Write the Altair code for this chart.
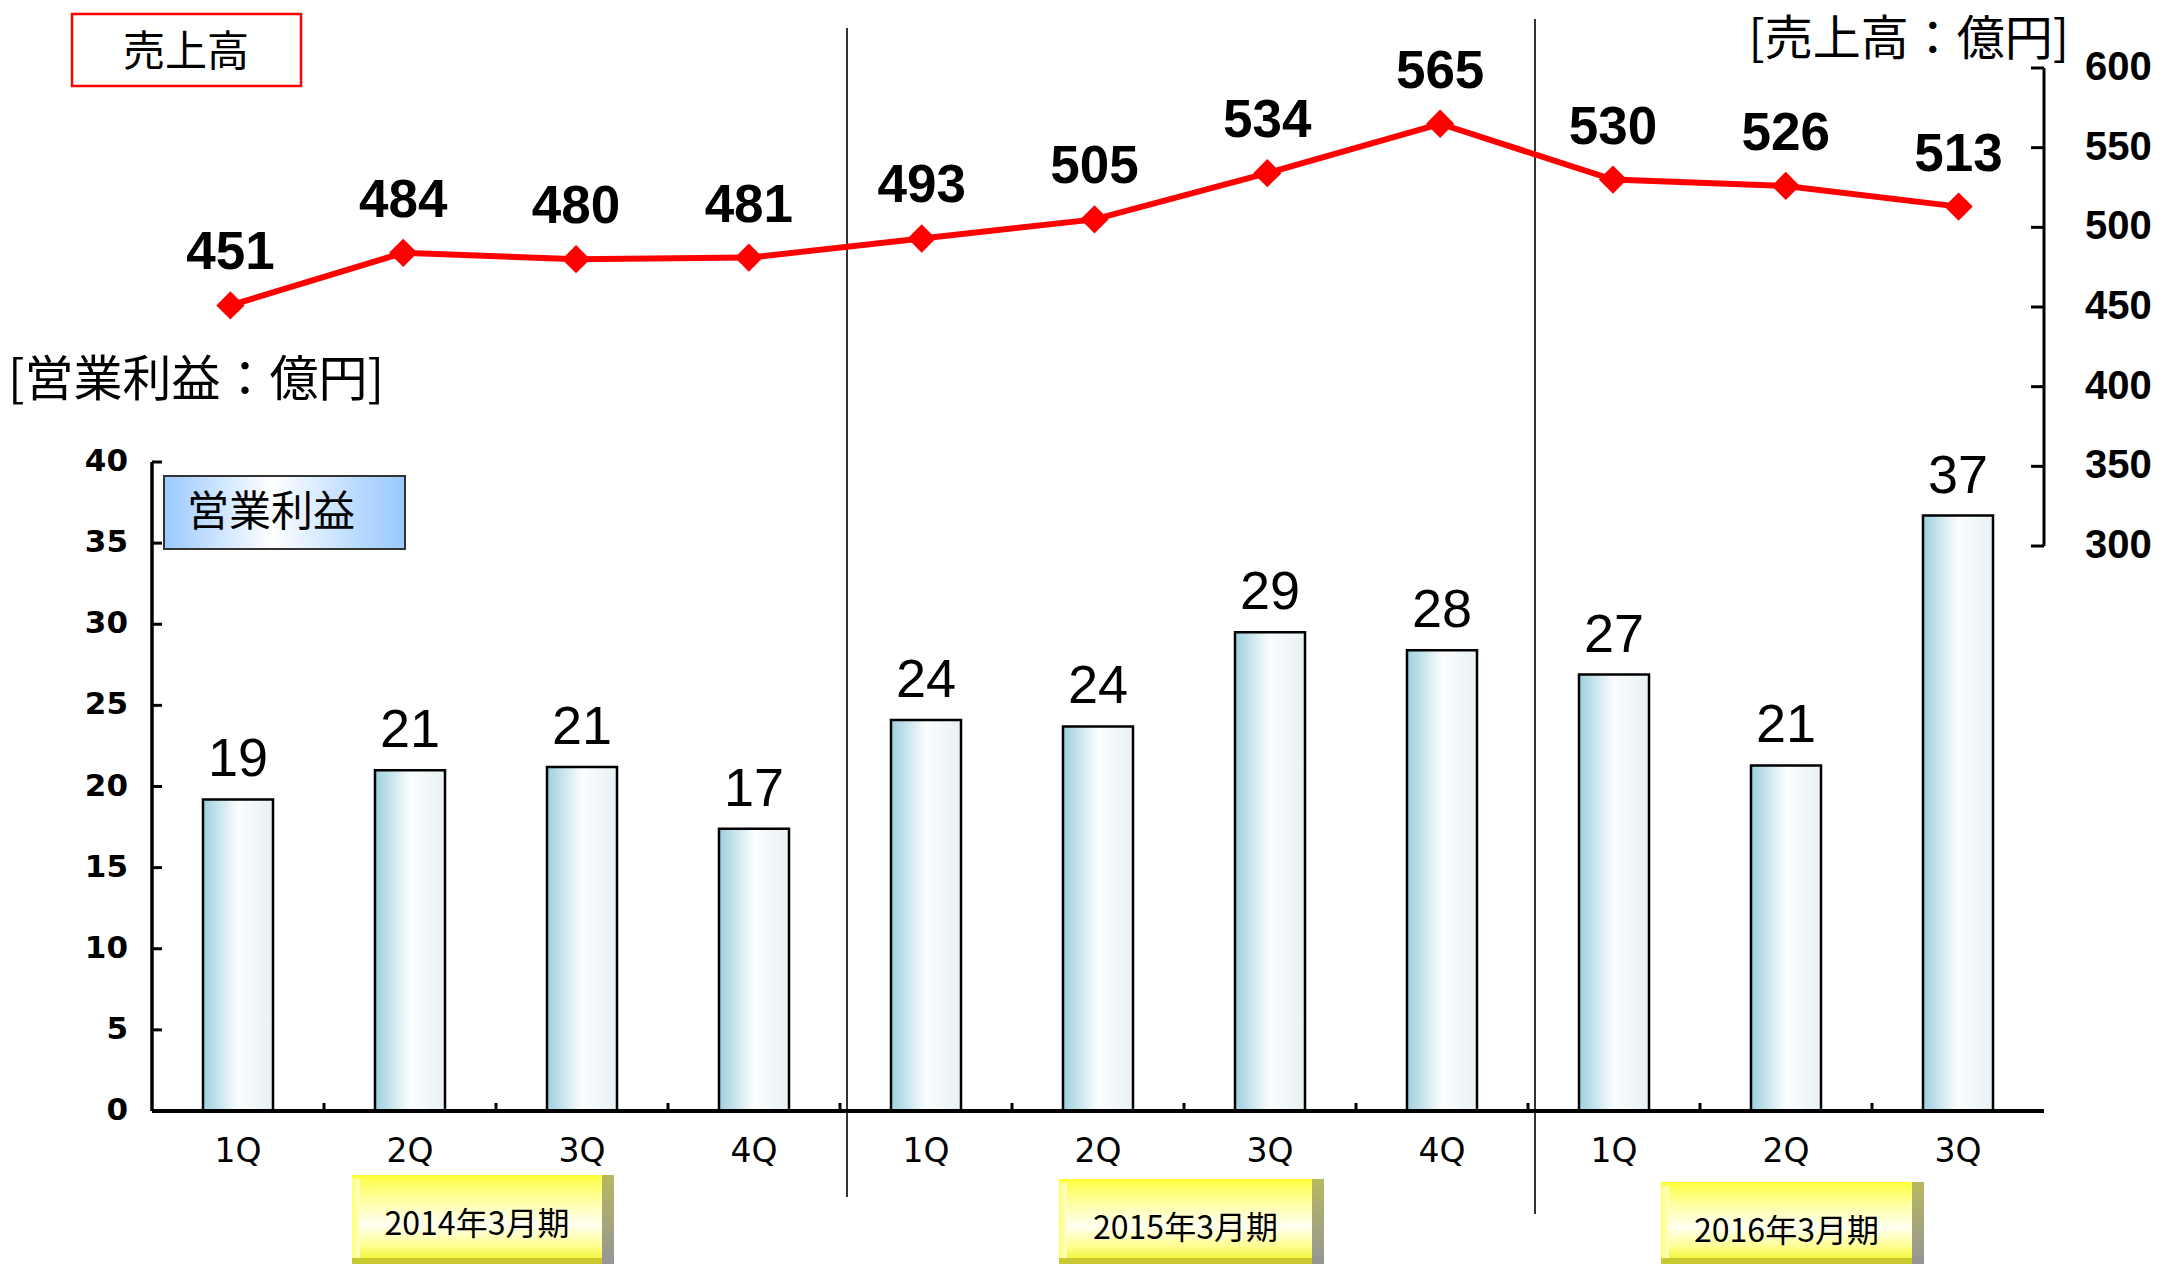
import altair as alt
import pandas as pd

# ---------------- data ----------------
quarters = ["1Q", "2Q", "3Q", "4Q", "1Q", "2Q", "3Q", "4Q", "1Q", "2Q", "3Q"]
revenue = [451, 484, 480, 481, 493, 505, 534, 565, 530, 526, 513]
profit = [19.2, 21.0, 21.2, 17.4, 24.1, 23.7, 29.5, 28.4, 26.9, 21.3, 36.7]
profit_labels = ["19", "21", "21", "17", "24", "24", "29", "28", "27", "21", "37"]
periods = ["2014年3月期", "2015年3月期", "2016年3月期"]
profit_ticks = [0, 5, 10, 15, 20, 25, 30, 35, 40]
revenue_ticks = [300, 350, 400, 450, 500, 550, 600]
boundaries = [1, 2, 3, 4, 5, 6, 7, 8, 9, 10]

# ---------------- layout ----------------
W, H = 1892, 1103
N = len(quarters)
HALF = 0.2035          # half bar width in quarter units
JP = "Noto Sans CJK JP"
LAT = "Liberation Sans"

df = pd.DataFrame({"i": list(range(N)), "q": quarters, "rev": revenue,
                   "prof": profit, "plab": profit_labels,
                   "revlab": [str(v) for v in revenue]})
df["xc"] = df["i"] + 0.5
df["x0"] = df["xc"] - HALF
df["x1"] = df["xc"] + HALF

xs = alt.Scale(domain=[0, N], range=[0, W], nice=False, zero=False)
# the revenue line sits on a slightly wider horizontal frame than the bars
xs_line = alt.Scale(domain=[0, N], range=[-8, 1893], nice=False, zero=False)
ys_p = alt.Scale(domain=[0, 40], range=[1103, 454], nice=False, zero=False)
ys_r = alt.Scale(domain=[300, 600], range=[538, 60], nice=False, zero=False)

one = pd.DataFrame({"k": [0]})


def grad(stops, horizontal=True):
    return alt.LinearGradient(
        gradient="linear",
        stops=[alt.GradientStop(color=c, offset=o) for o, c in stops],
        x1=0, y1=0, x2=1 if horizontal else 0, y2=0 if horizontal else 1)


layers = []

# ---- yellow period boxes (pixel layout, view coords) ----
box_layout = [(200, 462, 1167, 1217), (907, 1172, 1171, 1221), (1509, 1772, 1174, 1224)]
BOT = 1256
for name, (L, R, T, TY) in zip(periods, box_layout):
    layers.append(alt.Chart(one).mark_rect(color="#c8c830").encode(
        x=alt.value(L), x2=alt.value(R), y=alt.value(T), y2=alt.value(BOT)))
    layers.append(alt.Chart(one).mark_rect(fill=grad([(0, "#b8b860"), (1, "#959595")], False)).encode(
        x=alt.value(R - 12), x2=alt.value(R), y=alt.value(T), y2=alt.value(BOT)))
    layers.append(alt.Chart(one).mark_rect(fill=grad(
        [(0, "#ffff30"), (0.06, "#ffff55"), (0.35, "#ffffb0"), (0.6, "#fffff2"),
         (0.85, "#ffff90"), (1, "#f4f440")], False)).encode(
        x=alt.value(L), x2=alt.value(R - 12), y=alt.value(T), y2=alt.value(BOT - 6)))
    layers.append(alt.Chart(one).mark_rect(fill=grad(
        [(0, "#ffff70"), (1, "#ffffd0")])).encode(
        x=alt.value(L), x2=alt.value(L + 8), y=alt.value(T + 4), y2=alt.value(BOT - 6)))
    layers.append(alt.Chart(pd.DataFrame({"t": [name]})).mark_text(
        font=JP, fontSize=32, color="black", align="center", baseline="middle").encode(
        x=alt.value((L + R - 12) / 2), y=alt.value(TY), text="t:N"))

# ---- separators ----
for xp, y0, y1 in [(695, 20, 1189), (1383, 11, 1206)]:
    layers.append(alt.Chart(one).mark_rule(color="black", strokeWidth=1.6).encode(
        x=alt.value(xp), y=alt.value(y0), y2=alt.value(y1)))

# ---- bars ----
bar_fill = grad([(0, "#9dd0de"), (0.5, "#fbfdfe"), (1, "#e8f1f4")])
layers.append(alt.Chart(df).mark_rect(fill=bar_fill, stroke="black", strokeWidth=2.5).encode(
    x=alt.X("x0:Q", scale=xs, axis=None), x2="x1:Q",
    y=alt.Y("prof:Q", scale=ys_p, axis=None), y2=alt.datum(0)))
layers.append(alt.Chart(df).mark_text(
    font=LAT, fontSize=54, color="black", baseline="alphabetic", dy=-23).encode(
    x=alt.X("xc:Q", scale=xs, axis=None), y=alt.Y("prof:Q", scale=ys_p, axis=None),
    text="plab:N"))

# ---- left axis ----
pt = pd.DataFrame({"v": profit_ticks})
layers.append(alt.Chart(pd.DataFrame({"a": [0], "b": [40]})).mark_rule(
    color="black", strokeWidth=3.5).encode(
    x=alt.value(0), y=alt.Y("a:Q", scale=ys_p, axis=None), y2="b:Q"))
layers.append(alt.Chart(pt).mark_rule(color="black", strokeWidth=3).encode(
    x=alt.value(0), x2=alt.value(10), y=alt.Y("v:Q", scale=ys_p, axis=None)))
layers.append(alt.Chart(pt).mark_text(
    font="DejaVu Sans", fontWeight="bold", fontSize=31, align="right",
    baseline="middle", color="black").encode(
    x=alt.value(-24), y=alt.Y("v:Q", scale=ys_p, axis=None), text="v:Q"))

# ---- baseline / x axis ----
layers.append(alt.Chart(pd.DataFrame({"a": [0]})).mark_rule(color="black", strokeWidth=4).encode(
    x=alt.value(0), x2=alt.value(W), y=alt.Y("a:Q", scale=ys_p, axis=None)))
layers.append(alt.Chart(pd.DataFrame({"b": boundaries})).mark_rule(color="black", strokeWidth=3).encode(
    x=alt.X("b:Q", scale=xs, axis=None), y=alt.value(1095), y2=alt.value(1103)))
layers.append(alt.Chart(df).mark_text(
    font="DejaVu Sans", fontSize=33, color="black", baseline="alphabetic").encode(
    x=alt.X("xc:Q", scale=xs, axis=None), y=alt.value(1154), text="q:N"))

# ---- right axis ----
rt = pd.DataFrame({"v": revenue_ticks})
layers.append(alt.Chart(pd.DataFrame({"a": [300], "b": [600]})).mark_rule(
    color="black", strokeWidth=3).encode(
    x=alt.value(W), y=alt.Y("a:Q", scale=ys_r, axis=None), y2="b:Q"))
layers.append(alt.Chart(rt).mark_rule(color="black", strokeWidth=3).encode(
    x=alt.value(W - 13), x2=alt.value(W), y=alt.Y("v:Q", scale=ys_r, axis=None)))
layers.append(alt.Chart(rt).mark_text(
    font=LAT, fontWeight="bold", fontSize=40, align="left", baseline="middle",
    color="black").encode(
    x=alt.value(W + 41), y=alt.Y("v:Q", scale=ys_r, axis=None), text="v:Q"))

# ---- revenue line ----
layers.append(alt.Chart(df).mark_line(color="#ff0000", strokeWidth=6).encode(
    x=alt.X("xc:Q", scale=xs_line, axis=None), y=alt.Y("rev:Q", scale=ys_r, axis=None)))
layers.append(alt.Chart(df).mark_point(
    shape="diamond", filled=True, size=800, color="#ff0000", opacity=1).encode(
    x=alt.X("xc:Q", scale=xs_line, axis=None), y=alt.Y("rev:Q", scale=ys_r, axis=None)))
layers.append(alt.Chart(df).mark_text(
    font=LAT, fontWeight="bold", fontSize=53, color="black", baseline="alphabetic", dy=-36).encode(
    x=alt.X("xc:Q", scale=xs_line, axis=None), y=alt.Y("rev:Q", scale=ys_r, axis=None),
    text="revlab:N"))

# ---- annotation boxes & unit labels ----
layers.append(alt.Chart(one).mark_rect(fill="white", stroke="#ff0000", strokeWidth=2.5).encode(
    x=alt.value(-80), x2=alt.value(149), y=alt.value(6), y2=alt.value(78)))
layers.append(alt.Chart(pd.DataFrame({"t": ["売上高"]})).mark_text(
    font=JP, fontSize=42, color="black", align="center", baseline="middle").encode(
    x=alt.value(34), y=alt.value(45), text="t:N"))

layers.append(alt.Chart(one).mark_rect(
    fill=grad([(0, "#99c9ff"), (0.45, "#ffffff"), (0.85, "#b0d6ff"), (1, "#99c9ff")]),
    stroke="#333333", strokeWidth=2).encode(
    x=alt.value(12), x2=alt.value(253), y=alt.value(468), y2=alt.value(541)))
layers.append(alt.Chart(pd.DataFrame({"t": ["営業利益"]})).mark_text(
    font=JP, fontSize=42, color="black", align="left", baseline="middle").encode(
    x=alt.value(35), y=alt.value(505), text="t:N"))

layers.append(alt.Chart(pd.DataFrame({"t": ["[売上高：億円]"]})).mark_text(
    font=JP, fontSize=48, color="black", align="right", baseline="middle").encode(
    x=alt.value(1917), y=alt.value(33), text="t:N"))
layers.append(alt.Chart(pd.DataFrame({"t": ["[営業利益：億円]"]})).mark_text(
    font=JP, fontSize=49, color="black", align="left", baseline="middle").encode(
    x=alt.value(-144), y=alt.value(373), text="t:N"))

chart = alt.layer(*layers).resolve_scale(x="independent", y="independent").properties(
    width=W, height=H,
    padding={"left": 144, "top": 0, "right": 111, "bottom": 153},
    autosize=alt.AutoSizeParams(type="none"),
    background="white",
).configure_view(strokeWidth=0)

chart.save("out.html", embed_options={"renderer": "svg", "actions": False})
